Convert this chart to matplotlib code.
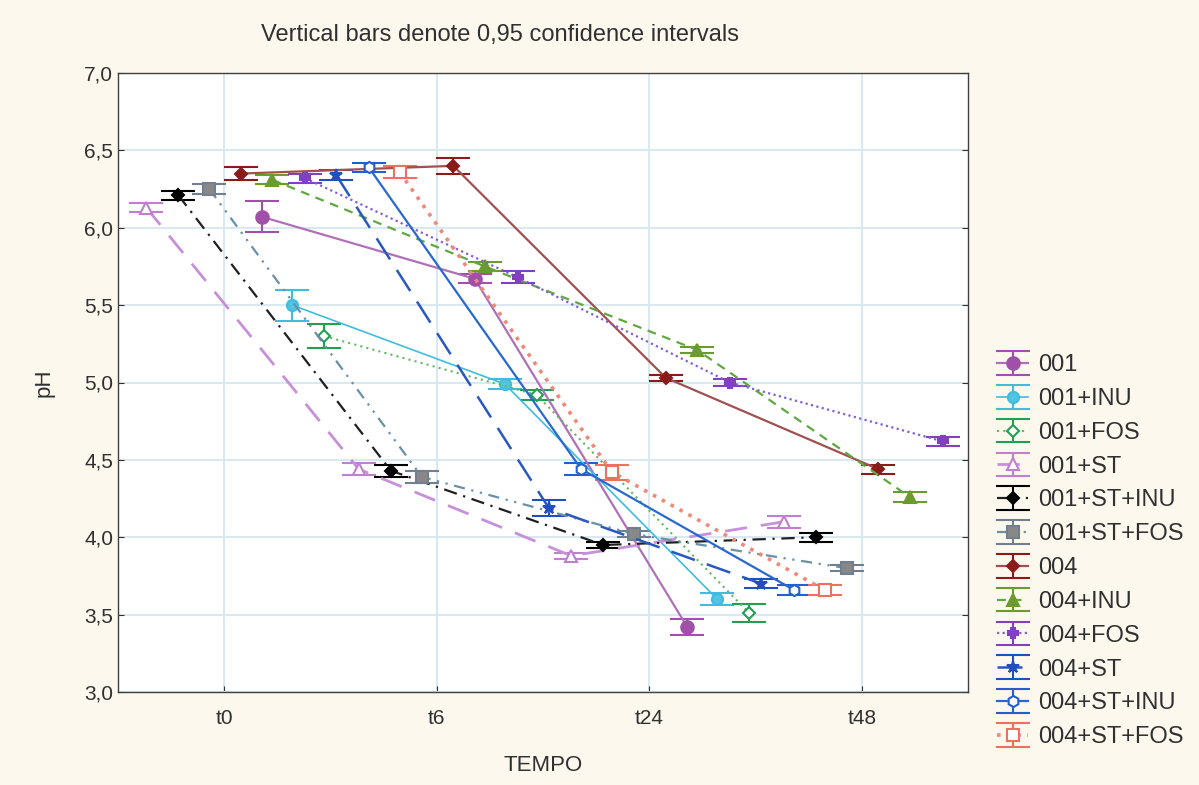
import matplotlib
matplotlib.use("Agg")
import matplotlib.pyplot as plt
import numpy as np

plt.rcParams['font.family'] = ['Liberation Sans', 'DejaVu Sans']

times = ["t0", "t6", "t24", "t48"]
series_names = ["001", "001+INU", "001+FOS", "001+ST", "001+ST+INU", "001+ST+FOS",
                "004", "004+INU", "004+FOS", "004+ST", "004+ST+INU", "004+ST+FOS"]

ph_001 = [6.07, 5.67, 3.42]
ph_001_inu = [5.50, 4.99, 3.60]
ph_001_fos = [5.30, 4.92, 3.51]
ph_001_st = [6.13, 4.44, 3.88, 4.10]
ph_001_st_inu = [6.21, 4.43, 3.95, 4.00]
ph_001_st_fos = [6.25, 4.39, 4.02, 3.80]
ph_004 = [6.35, 6.40, 5.03, 4.44]
ph_004_inu = [6.31, 5.75, 5.21, 4.26]
ph_004_fos = [6.32, 5.68, 5.00, 4.62]
ph_004_st = [6.34, 4.19, 3.70]
ph_004_st_inu = [6.39, 4.44, 3.66]
ph_004_st_fos = [6.36, 4.42, 3.66]

ci_001 = [0.10, 0.03, 0.05]
ci_001_inu = [0.10, 0.03, 0.04]
ci_001_fos = [0.08, 0.03, 0.06]
ci_001_st = [0.03, 0.04, 0.02, 0.04]
ci_001_st_inu = [0.03, 0.04, 0.02, 0.03]
ci_001_st_fos = [0.03, 0.04, 0.02, 0.02]
ci_004 = [0.04, 0.05, 0.02, 0.03]
ci_004_inu = [0.03, 0.03, 0.02, 0.03]
ci_004_fos = [0.03, 0.04, 0.02, 0.03]
ci_004_st = [0.03, 0.05, 0.03]
ci_004_st_inu = [0.03, 0.04, 0.03]
ci_004_st_fos = [0.04, 0.05, 0.03]

values = [ph_001, ph_001_inu, ph_001_fos, ph_001_st, ph_001_st_inu, ph_001_st_fos,
          ph_004, ph_004_inu, ph_004_fos, ph_004_st, ph_004_st_inu, ph_004_st_fos]
cis = [ci_001, ci_001_inu, ci_001_fos, ci_001_st, ci_001_st_inu, ci_001_st_fos,
       ci_004, ci_004_inu, ci_004_fos, ci_004_st, ci_004_st_inu, ci_004_st_fos]

# styles: (offset, line color, err color, marker, marker face, ls, lw, ms)
styles = [
    (0.179, '#b070b8', '#a050a8', 'o', '#a050a8', '-', 1.6, 9),
    (0.320, '#40bce0', '#40bce0', 'o', '#50c4e0', '-', 1.2, 8),
    (0.470, '#60b860', '#20a050', 'D', 'white', (0, (1, 2)), 1.5, 6),
    (-0.367, '#c890d8', '#c080d0', '^', 'white', (0, (8, 5)), 2.0, 8),
    (-0.216, '#202020', '#000000', 'D', '#000000', (0, (6, 3, 1, 3)), 1.6, 6),
    (-0.070, '#6890a8', '#708090', 's', '#888888', (0, (5, 3, 1, 3, 1, 3)), 1.6, 8),
    (0.078, '#a05050', '#8b1a1a', 'D', '#8b1a1a', '-', 1.6, 6),
    (0.226, '#60a840', '#6a9a30', '^', '#6a9a30', (0, (4, 3)), 1.6, 8),
    (0.380, '#8060d8', '#8040c0', 'P', '#8040c0', (0, (1, 1.5)), 1.6, 7),
    (0.527, '#2858c0', '#2050c0', '*', '#2050c0', (0, (10, 5)), 1.8, 9),
    (0.680, '#2868d0', '#2060d0', 'h', 'white', '-', 1.6, 8),
    (0.825, '#f08878', '#f07060', 's', 'white', (0, (1, 1.8)), 2.6, 8),
]

fig = plt.figure(figsize=(11.99, 7.85), dpi=100)
fig.patch.set_facecolor('#fdf8ee')
ax = fig.add_axes([118 / 1199, 1 - 692 / 785, (968 - 118) / 1199, (692 - 73) / 785])
ax.set_facecolor('white')

handles = []
for name, vals, ci, st in zip(series_names, values, cis, styles):
    off, lc, ec, mk, mf, ls, lw, ms = st
    x = np.arange(len(vals)) + off
    h = ax.errorbar(x, vals, yerr=ci, color=lc, ecolor=ec, elinewidth=1.5,
                    capsize=12, capthick=1.5, marker=mk, markersize=ms,
                    markerfacecolor=mf, markeredgecolor=ec, markeredgewidth=1.5,
                    linestyle=ls, linewidth=lw, label=name, zorder=3)
    handles.append(h)

ax.set_xlim(-0.5, 3.5)
ax.set_ylim(3.0, 7.0)
ax.set_xticks(range(len(times)))
ax.set_xticklabels(times)
yt = np.arange(3.0, 7.01, 0.5)
ax.set_yticks(yt)
ax.set_yticklabels([f"{v:.1f}".replace('.', ',') for v in yt])
ax.tick_params(axis='both', labelsize=15, colors='#303030', direction='in',
               length=4, right=True)
ax.tick_params(axis='x', pad=12)
ax.grid(True, color='#dae8f2', linewidth=1.5)
ax.set_axisbelow(True)
for sp in ax.spines.values():
    sp.set_color('#404040')
    sp.set_linewidth(1.0)

ax.set_xlabel("TEMPO", fontsize=16, color='#303030', labelpad=20)
ax.set_ylabel("pH", fontsize=16, color='#303030', labelpad=21)
fig.text(500 / 1199, 1 - 35 / 785, "Vertical bars denote 0,95 confidence intervals",
         ha='center', va='center', fontsize=17, color='#303030')

leg = fig.legend(handles=handles, labels=series_names, loc='upper left',
                 bbox_to_anchor=(976 / 1199, 1 - 333 / 785), frameon=False,
                 fontsize=17, handlelength=1.3, labelspacing=0.5,
                 handletextpad=0.45, labelcolor='#303030')

fig.savefig("out.png", dpi=100, facecolor=fig.get_facecolor())
